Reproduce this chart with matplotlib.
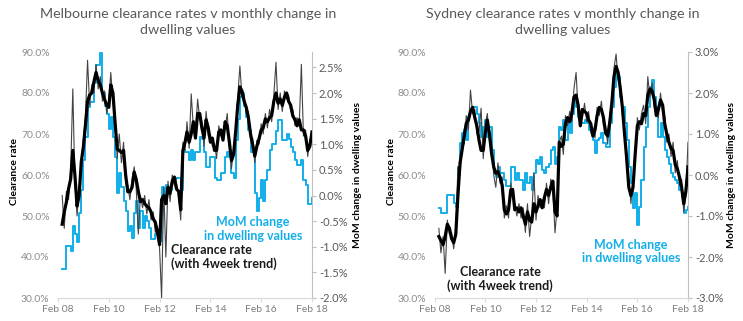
import matplotlib
matplotlib.use('Agg')
import matplotlib.pyplot as plt
import matplotlib.dates as mdates
from matplotlib.ticker import FuncFormatter, MultipleLocator
import pandas as pd

plt.rcParams['font.family'] = ['Lato', 'DejaVu Sans']

# monthly values, Apr 2008 .. Feb 2018
start = '2008-04-01'

# Melbourne: month-on-month change in dwelling values (%), right axis
mel_mom = [-1.43, -1.43, -0.98, -0.98, -1.08, -0.6, -0.75, -0.9, -0.35, 0.1, 0.69, 1.14,
           1.73, 1.82, 1.82, 2.2, 2.55, 2.55, 2.78, 2.0, 1.75, 1.6, 1.3, 1.53,
           1.14, 0.75, 0.04, 0.43, 0.16, -0.1, -0.3, -0.7, -0.6, -0.82, -0.35, -0.1,
           -0.63, -0.3, -0.63, -0.4, -0.5, -0.63, -0.85, -0.85, -0.75, -0.65, -0.88, 0.16,
           -0.1, 0.2, 0.15, 0.1, 0.3, 0.3, 0.35, 0.35, 0.1, 0.88, 0.84, 0.84,
           0.7, 0.88, 0.7, 0.85, 0.85, 1.14, 1.1, 0.84, 0.55, 0.55, 0.75, 0.75,
           0.35, 0.3, 0.3, 0.43, 0.43, 0.75, 0.84, 0.75, 0.43, 0.35, 1.08, 1.5,
           1.92, 2.0, 1.75, 1.53, 1.27, 0.84, 0.84, 0.05, -0.3, -0.04, 0.3, -0.1,
           0.3, 0.5, 0.88, 1.0, 1.0, 1.25, 1.47, 1.47, 1.08, 1.08, 1.2, 1.1,
           0.95, 0.84, 0.7, 0.6, 0.6, 0.7, 0.3, 0.2, -0.16, -0.16, -0.05]

# Melbourne clearance rate, 4 week trend (%)
mel_trend = [48, 51, 53.4, 56.6, 59, 66, 60, 52.4, 55, 63.2, 67, 72,
             78, 79.5, 80, 82.7, 85, 83, 82, 80, 78.5, 77, 76.5, 82,
             80, 73, 66.3, 66, 65.5, 66, 60, 55.9, 55.9, 57, 60.7, 59,
             56, 53.5, 54, 53, 52.4, 52, 51, 49.3, 48.5, 46, 43, 54,
             55, 53, 57, 55.5, 58.5, 59.5, 56.6, 56, 51.5, 66, 68, 70.5,
             68, 70, 73, 69, 75, 75, 71.5, 69, 73.5, 71.5, 68, 69,
             66, 66, 70.5, 71, 68.5, 73, 72, 68, 63.5, 65, 71, 77,
             81.5, 80.5, 78, 76.5, 74, 70, 67.5, 64.6, 67, 68.8, 71, 71.5,
             73.7, 73, 74, 74.5, 78, 80, 77.5, 78.5, 77, 79, 80, 78,
             77, 74.4, 73.5, 72, 73.5, 71, 71, 69.5, 66, 67, 70.5]

# Melbourne clearance rate, raw (%)
mel_raw = [55, 47, 56, 54, 61, 81, 58, 50, 57, 62, 69, 74,
           88, 77, 82, 80, 87, 81, 84, 78, 80.5, 75, 78, 85,
           78, 75, 64, 70, 63, 68, 58, 57.5, 54, 59, 62, 57,
           45.6, 55, 52, 55, 50.5, 54, 49, 51, 46, 47.5, 42, 30,
           57, 40, 58.5, 53.5, 60, 57.5, 58, 55, 49, 68, 66, 73,
           66.5, 79.8, 71.5, 70, 78.5, 73.5, 73, 67, 75.5, 69.5, 70, 67,
           67.5, 64, 72, 69.5, 70, 71.5, 75, 66.5, 61.5, 67, 69.5, 79,
           86.6, 79, 79.5, 75, 75.5, 68.5, 69, 63, 68.5, 67.5, 72.5, 70,
           75, 71.5, 76, 73, 79.5, 87.5, 76, 80, 75.5, 80.5, 78.5, 79.5,
           75.5, 76, 72, 74, 72, 87, 69.5, 71, 64.5, 68.5, 69.5]

# Sydney: month-on-month change in dwelling values (%)
syd_mom = [-0.81, -0.93, -0.93, -0.93, -0.49, -0.49, -0.49, -0.69, -0.77, 0.2, 0.77, 1.02,
           1.1, 0.85, 1.42, 1.59, 1.67, 1.67, 1.5, 1.26, 0.93, 1.18, 1.34, 0.93,
           1.18, 0.61, 0.04, -0.04, 0.2, 0.04, 0.04, -0.12, -0.28, -0.28, 0.2, 0.2,
           -0.12, 0.04, -0.12, -0.12, -0.37, 0.04, -0.2, -0.04, -0.37, 0.04, 0.37, 0.28,
           0.45, 0.12, 0.04, 0.2, 0.28, 0.61, 0.69, 0.28, 0.45, 1.18, 1.1, 1.34,
           0.85, 1.26, 1.02, 1.5, 1.91, 1.67, 1.42, 1.26, 1.26, 1.34, 1.26, 1.1,
           1.02, 0.85, 0.53, 0.85, 0.9, 1.02, 0.77, 0.69, 0.69, 1.26, 1.67, 2.15,
           2.5, 2.4, 1.91, 1.67, 1.26, 0.85, 0.2, -0.2, -0.8, -0.45, -1.22, -0.77,
           -0.12, 0.69, 1.18, 1.67, 2.15, 2.32, 1.91, 1.67, 0.93, 1.26, 0.93, 0.61,
           0.45, 0.28, 0.04, -0.04, -0.12, -0.2, -0.37, -0.53, -0.93, -0.85, -0.77]

syd_trend = [45, 44, 43, 45, 48, 47, 44.5, 43.5, 45.5, 55, 63, 66,
             69.5, 72.6, 73.4, 75.5, 76.5, 74, 72, 68.5, 66, 66, 70.5, 73.4,
             70, 65.3, 62, 60.4, 60.8, 59.5, 57.5, 51.5, 50.5, 51.5, 56.3, 56.5,
             51.5, 52, 51, 52, 50, 48, 51, 49, 48.5, 53, 51, 52.5,
             54, 52, 54.5, 56.5, 55, 57, 58.5, 51, 50, 68, 67, 67.5,
             72.6, 74, 73, 75, 79, 79.5, 77, 72, 76, 75.5, 75, 73.4,
             72.5, 69.5, 71, 74.5, 76.5, 76, 74, 70.2, 69.5, 73, 78, 84,
             86.5, 85, 81, 76.5, 70, 64, 57, 55, 57, 65, 72, 73,
             72.5, 75, 74.5, 79.5, 81, 80.5, 78.5, 74.5, 76, 78.3, 77, 72.6,
             70, 68, 66.5, 66, 62.5, 61.5, 59.5, 57, 53, 56, 62]

syd_raw = [47, 41, 45, 36, 49, 45.5, 46, 42, 47, 62, 60, 68,
           67.5, 74.5, 71, 80.7, 75, 76, 70, 70.5, 76.3, 64, 72.5, 75,
           68, 67, 60, 57, 63, 58, 59.5, 49.5, 52.5, 49.5, 58, 54.5,
           53, 50, 53, 49.5, 52, 46, 53, 45, 50, 60.4, 49, 55,
           52, 54, 52, 58, 53, 59, 56.5, 45.9, 52, 68, 69.5, 65,
           74.5, 72, 75.5, 73, 81, 85, 75.5, 74, 74, 77.5, 73, 75.5,
           70.5, 71.5, 69, 76.5, 74.5, 78, 72, 72, 67.5, 75, 76, 86,
           89.5, 83, 83, 74.5, 72, 62, 59, 53, 59, 63, 74, 71,
           75, 77, 72.5, 84, 79, 82.5, 76.5, 76.5, 74, 80, 75, 74.5,
           68, 70, 64.5, 68, 60.5, 63.5, 57.5, 59, 51, 55, 68]

W, H = 743, 321
BLUE = '#12aee8'


def fx(x):
    return x / W


def fy(y):
    return 1 - y / H


fig = plt.figure(figsize=(W / 100, H / 100), dpi=100)


def panel(x0, x1, title, title_x, mom, trend, raw, rlim, rstep, ylab_x, rlab_x):
    ax = fig.add_axes([fx(x0), fy(298), fx(x1) - fx(x0), fy(52) - fy(298)])
    ax2 = ax.twinx()
    ax.set_zorder(2)
    ax.patch.set_visible(False)

    d_mom = pd.date_range(start, periods=len(mom), freq='MS')
    d_tr = pd.date_range(start, periods=len(trend), freq='MS')
    d_raw = pd.date_range(start, periods=len(raw), freq='MS')

    ax2.plot(d_mom, mom, color=BLUE, lw=1.4, drawstyle='steps-post')
    ax.plot(d_raw, raw, color='#444444', lw=0.8)
    ax.plot(d_tr, trend, color='black', lw=2.3)

    ax.set_xlim(pd.Timestamp('2008-02-01'), pd.Timestamp('2018-02-01'))
    ax.set_ylim(30, 90)
    ax.yaxis.set_major_locator(MultipleLocator(10))
    ax.yaxis.set_major_formatter(FuncFormatter(lambda v, p: f'{v:.1f}%'))
    ax2.set_ylim(*rlim)
    ax2.yaxis.set_major_locator(MultipleLocator(rstep))
    ax2.yaxis.set_major_formatter(FuncFormatter(lambda v, p: f'{v:.1f}%'))

    ax.xaxis.set_major_locator(mdates.YearLocator(2, month=2, day=1))
    ax.xaxis.set_major_formatter(mdates.DateFormatter('%b %y'))

    for s in ['left', 'top', 'right']:
        ax.spines[s].set_visible(False)
    ax.spines['bottom'].set_color('#d9d9d9')
    for s in ['left', 'top', 'bottom']:
        ax2.spines[s].set_visible(False)
    ax2.spines['right'].set_color('#bfbfbf')

    ax.tick_params(axis='y', length=0, labelsize=7.5, labelcolor='#8c8c8c', pad=6)
    ax.tick_params(axis='x', length=3, color='#d9d9d9', labelsize=7.5,
                   labelcolor='#7f7f7f', pad=2)
    ax2.tick_params(axis='y', length=3, color='#bfbfbf', labelsize=8,
                    labelcolor='#595959', pad=2)

    fig.text(fx(title_x), fy(22), title, ha='center', va='center', fontsize=10.3,
             color='#595959', linespacing=1.3)
    fig.text(fx(ylab_x), fy(172), 'Clearance rate', rotation=90, ha='center',
             va='center', fontsize=7.5, fontweight='bold')
    fig.text(fx(rlab_x), fy(175), 'MoM change in dwelling values', rotation=90,
             ha='center', va='center', fontsize=7.5, fontweight='bold')
    return ax


panel(58, 312, 'Melbourne clearance rates v monthly change in\ndwelling values', 188,
      mel_mom, mel_trend, mel_raw, (-2.0, 2.8), 0.5, 15, 357)
panel(434.7, 688, 'Sydney clearance rates v monthly change in\ndwelling values', 563,
      syd_mom, syd_trend, syd_raw, (-3.0, 3.0), 1.0, 392, 732)

fig.text(fx(253), fy(229), 'MoM change\nin dwelling values', ha='center',
         va='center', fontsize=9, fontweight='bold', color=BLUE, linespacing=1.15)
fig.text(fx(171), fy(257), 'Clearance rate\n(with 4week trend)', ha='left',
         va='center', fontsize=9, fontweight='bold', color='#1a1a1a',
         linespacing=1.15)
fig.text(fx(631), fy(251.5), 'MoM change\nin dwelling values', ha='center',
         va='center', fontsize=9, fontweight='bold', color=BLUE, linespacing=1.15)
fig.text(fx(500), fy(279), 'Clearance rate\n(with 4week trend)', ha='center',
         va='center', fontsize=9, fontweight='bold', color='#1a1a1a',
         linespacing=1.15)

fig.savefig('out.png', dpi=100)
